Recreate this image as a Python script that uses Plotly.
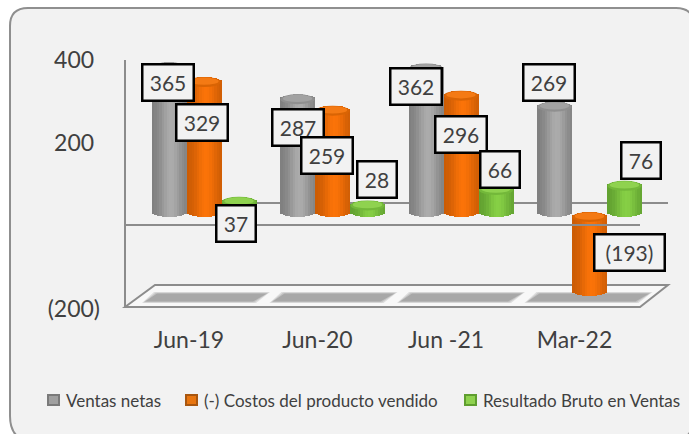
import math
import plotly.graph_objects as go

categories = ["Jun-19", "Jun-20", "Jun -21", "Mar-22"]
ventas_netas = [365, 287, 362, 269]
costos = [329, 259, 296, -193]
resultado = [37, 28, 66, 76]
series_names = ["Ventas netas", "(-) Costos del producto vendido", "Resultado Bruto en Ventas"]
y_ticks = [400, 200, -200]
y_tick_labels = ["400\u00a0", "200\u00a0", "(200)"]

W, H = 689, 434
GROUP_PX = 128.5
BAR_PX = 35.0
V_PX = 0.41           # pixels per unit on the bars' axis
ZERO_PY = 212.0
TICK_V_PX = 0.415     # pixels per unit on the tick axis
TICK_ZERO_PY = 226.0
GROUP0_PX = 204.0
LABEL0_PX = 189.0
FONT = "Lato, 'Open Sans', sans-serif"
TXT = "#404040"
LINE = "#8c8c8c"

styles = [
    dict(dark="#7d7d7d", light="#ababab", cap="#a2a2a2", cap2="#8f8f8f", sw="#a0a0a0", swb="#7a7a7a"),
    dict(dark="#c85a04", light="#fb7308", cap="#f47a14", cap2="#d96404", sw="#e8750f", swb="#a8560f"),
    dict(dark="#5f9e2f", light="#86cf45", cap="#8fd24f", cap2="#73b83a", sw="#8fd24f", swb="#5f9e2f"),
]
# label-box offsets from the bar end, in pixels (right, down)
label_offsets = [
    [(-1.5, 20.6), (0, 32.7), (-10.5, 23.4), (-5.5, -19.7)],
    [(-2.5, 44.9), (-5.5, 49.2), (-0.5, 43.9), (39.5, -39.1)],
    [(-3.5, 26.2), (9, -21), (3.5, -15.4), (16.5, -20.3)],
]
label_widths = {0: 49, 1: 49, 2: 37}
legend_text_px = [64, 202, 481]


def rgb(h):
    return tuple(int(h[i:i + 2], 16) for i in (1, 3, 5))


def mix(a, b, t):
    a, b = rgb(a), rgb(b)
    return "rgb(%d,%d,%d)" % tuple(round(a[i] + (b[i] - a[i]) * t) for i in range(3))


def fmt(v):
    return f"({abs(v)})" if v < 0 else str(v)


def px(x):
    return x / W


def py(y):
    return 1 - y / H


xpx = 1 / GROUP_PX          # axis units per pixel on x
ypx = 1 / V_PX              # axis units per pixel on y
BAR_W = BAR_PX * xpx
RY = 5.0 * ypx
INSET = 5.0 * ypx           # the far end of each cylinder sits this far inside the value plane
STRIPS = 14

fig = go.Figure()
all_values = [ventas_netas, costos, resultado]
shapes = []

# page frame
r1, r2 = 18, 26
L, T, R, B = 10, 8, 694, 442
frame = (f"M{px(L)},{py(T + r1)} Q{px(L)},{py(T)} {px(L + r1)},{py(T)} "
         f"L{px(R - r1)},{py(T)} Q{px(R)},{py(T)} {px(R)},{py(T + r1)} "
         f"L{px(R)},{py(B - r2)} Q{px(R)},{py(B)} {px(R - r2)},{py(B)} "
         f"L{px(L + r2)},{py(B)} Q{px(L)},{py(B)} {px(L)},{py(B - r2)} Z")
shapes.append(dict(type="path", xref="paper", yref="paper", path=frame, fillcolor="#f2f2f2",
                   line=dict(color="#8f8f8f", width=2), layer="below"))


def seg(x0, y0, x1, y1, layer="below", color=LINE, width=2):
    return dict(type="line", xref="paper", yref="paper", x0=px(x0), y0=py(y0), x1=px(x1), y1=py(y1),
                line=dict(color=color, width=width), layer=layer)


# floor
floor = (f"M{px(125)},{py(307)} L{px(155)},{py(285)} L{px(668)},{py(285)} L{px(640)},{py(307)} Z")
shapes.append(dict(type="path", xref="paper", yref="paper", path=floor, fillcolor="#f8f8f8",
                   line=dict(color=LINE, width=2), layer="below"))
for i in range(len(categories)):
    dx = i * 127.5
    for grow, col in ((3.0, "#dddddd"), (1.5, "#c4c4c4"), (0.0, "#a8a8a8")):
        p = (f"M{px(145 + dx - grow)},{py(301.5 + grow / 2)} L{px(157 + dx - grow)},{py(293.5 - grow / 2)} "
             f"L{px(267 + dx + grow)},{py(293.5 - grow / 2)} L{px(253 + dx + grow)},{py(301.5 + grow / 2)} Z")
        shapes.append(dict(type="path", xref="paper", yref="paper", path=p, fillcolor=col,
                           line=dict(width=0), layer="below"))
# walls
shapes.append(seg(125, 60, 125, 307))
shapes.append(seg(155, 203, 668, 203))

# keeps the axes that carry the tick labels alive
fig.add_trace(go.Scatter(x=[0], y=[0], mode="markers", marker=dict(opacity=0), showlegend=False,
                         hoverinfo="skip"))

# cylinders
for j, (name, values, st) in enumerate(zip(series_names, all_values, styles)):
    center = (j - 1) * BAR_PX * xpx
    top_ends = [v - INSET if v > 0 else -INSET for v in values]
    low_ends = [0 if v > 0 else v for v in values]
    for k in range(STRIPS):
        t0 = k / STRIPS
        tm = (k + 0.5) / STRIPS
        w = BAR_W / STRIPS
        u = 2 * tm - 1
        sag = RY * math.sqrt(max(0, 1 - u * u))
        shade = math.exp(-((tm - 0.55) / 0.32) ** 2)
        tops = [a + sag for a in top_ends]
        bottoms = [b - sag for b in low_ends]
        fig.add_trace(go.Bar(
            x=list(range(len(categories))),
            y=[a - b for a, b in zip(tops, bottoms)],
            base=bottoms,
            width=w * 1.15,
            offset=center - BAR_W / 2 + t0 * BAR_W,
            marker=dict(color=mix(st["dark"], st["light"], shade), line=dict(width=0)),
            name=name,
            showlegend=False,
            xaxis="x2", yaxis="y2",
            hoverinfo="skip",
        ))
    # caps
    for i, top in enumerate(top_ends):
        cx = i + center
        shapes.append(dict(type="circle", xref="x2", yref="y2", layer="above",
                           x0=cx - BAR_W / 2 + 0.004, x1=cx + BAR_W / 2 - 0.004,
                           y0=top - RY, y1=top + RY,
                           fillcolor=st["cap2"], line=dict(width=0)))
        shapes.append(dict(type="circle", xref="x2", yref="y2", layer="above",
                           x0=cx - BAR_W * 0.42, x1=cx + BAR_W * 0.42,
                           y0=top - RY * 0.55, y1=top + RY * 0.9,
                           fillcolor=st["cap"], line=dict(width=0)))

# front zero line passes over the bars
shapes.append(seg(125, 225, 640, 225, layer="above"))

# value labels
annotations = []
for j, (values, st) in enumerate(zip(all_values, styles)):
    center = (j - 1) * BAR_PX * xpx
    for i, v in enumerate(values):
        dx, dy = label_offsets[j][i]
        width = 68 if v < 0 else label_widths[j]
        annotations.append(dict(
            x=i + center, y=v, xref="x2", yref="y2", text=fmt(v), showarrow=False,
            xshift=dx, yshift=-dy, xanchor="center", yanchor="middle",
            width=width, height=34, align="center", valign="middle",
            bgcolor="#f2f2f2", bordercolor="#000000", borderwidth=2.5, borderpad=0,
            font=dict(family=FONT, size=21, color=TXT),
        ))

# legend row
for name, st, tx in zip(series_names, styles, legend_text_px):
    shapes.append(dict(type="rect", xref="paper", yref="paper", x0=px(tx - 17), x1=px(tx - 4),
                       y0=py(406), y1=py(394), fillcolor=st["swb"], line=dict(width=0), layer="above"))
    shapes.append(dict(type="rect", xref="paper", yref="paper", x0=px(tx - 15), x1=px(tx - 6),
                       y0=py(404), y1=py(396), fillcolor=st["sw"], line=dict(width=0), layer="above"))
    annotations.append(dict(x=px(tx), y=py(400), xref="paper", yref="paper", text=name, showarrow=False,
                            xanchor="left", yanchor="middle",
                            font=dict(family=FONT, size=17, color=TXT)))

fig.update_layout(
    width=W, height=H, margin=dict(l=0, r=0, t=0, b=0), autosize=False,
    paper_bgcolor="white", plot_bgcolor="rgba(0,0,0,0)",
    barmode="overlay", bargap=0,
    font=dict(family=FONT, color=TXT),
    shapes=shapes, annotations=annotations,
    showlegend=False,
    xaxis=dict(range=[(0 - LABEL0_PX) / GROUP_PX, (W - LABEL0_PX) / GROUP_PX], domain=[0, 1],
               tickmode="array", tickvals=list(range(len(categories))), ticktext=categories,
               tickfont=dict(family=FONT, size=23, color=TXT), showgrid=False, zeroline=False,
               showline=False, ticks="", anchor="free", position=py(324)),
    yaxis=dict(range=[(TICK_ZERO_PY - H) / TICK_V_PX, TICK_ZERO_PY / TICK_V_PX], domain=[0, 1],
               tickmode="array", tickvals=y_ticks, ticktext=y_tick_labels,
               tickfont=dict(family=FONT, size=23, color=TXT), showgrid=False, zeroline=False,
               showline=False, ticks="", anchor="free", position=px(100)),
    xaxis2=dict(range=[(0 - GROUP0_PX) / GROUP_PX, (W - GROUP0_PX) / GROUP_PX], overlaying="x",
                visible=False, anchor="y2"),
    yaxis2=dict(range=[(ZERO_PY - H) / V_PX, ZERO_PY / V_PX], overlaying="y",
                visible=False, anchor="x2"),
)

fig.write_html("out.html", post_script="document.body.style.margin='0';",
               config=dict(displayModeBar=False))
